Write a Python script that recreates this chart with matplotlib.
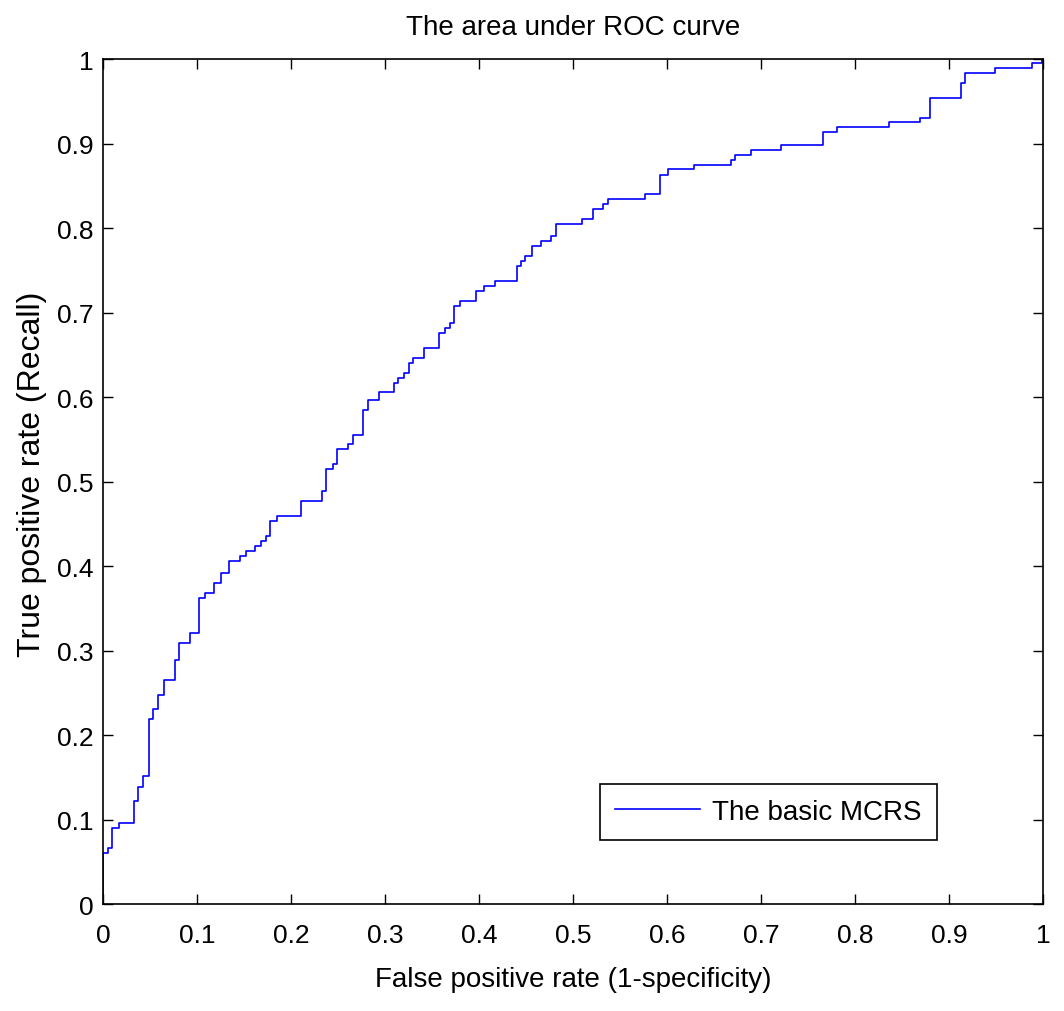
import matplotlib.pyplot as plt
import numpy as np

# ROC curve vertices (false positive rate, true positive rate)
fpr = [0, 0, 0.005, 0.0096, 0.017, 0.033, 0.0376, 0.0422, 0.0489, 0.0535,
       0.0582, 0.0649, 0.0763, 0.0809, 0.0929, 0.1021, 0.1085, 0.1181, 0.1252, 0.1344,
       0.1457, 0.1524, 0.1617, 0.1684, 0.1731, 0.1777, 0.1848, 0.2103, 0.233, 0.2376,
       0.2444, 0.2493, 0.261, 0.2656, 0.2769, 0.2816, 0.2933, 0.3093, 0.3141, 0.3205,
       0.3252, 0.3298, 0.3415, 0.3574, 0.3641, 0.3688, 0.3734, 0.3801, 0.3965, 0.4056,
       0.4173, 0.4401, 0.4447, 0.4493, 0.4564, 0.4656, 0.4769, 0.4819, 0.5093, 0.521,
       0.5322, 0.5369, 0.5763, 0.5922, 0.6014, 0.629, 0.6684, 0.6727, 0.689, 0.7213,
       0.7656, 0.7812, 0.8365, 0.8688, 0.8798, 0.9124, 0.917, 0.9493, 0.9883, 0.9986,
       1.0]
tpr = [0, 0.060, 0.066, 0.0895, 0.0955, 0.1215, 0.139, 0.151, 0.2186, 0.2304,
       0.2477, 0.2654, 0.2888, 0.3092, 0.321, 0.3621, 0.3684, 0.3799, 0.3917, 0.4059,
       0.4122, 0.4178, 0.4237, 0.4296, 0.4355, 0.4529, 0.4588, 0.4766, 0.4884, 0.5144,
       0.5204, 0.5381, 0.544, 0.5554, 0.585, 0.5967, 0.6059, 0.6169, 0.6228, 0.6288,
       0.6406, 0.6465, 0.658, 0.6757, 0.6817, 0.6876, 0.708, 0.7139, 0.7254, 0.7313,
       0.7373, 0.7546, 0.7609, 0.7664, 0.7783, 0.7842, 0.7902, 0.8051, 0.8107, 0.8225,
       0.8284, 0.8343, 0.8399, 0.8631, 0.8695, 0.8749, 0.8808, 0.8867, 0.8926, 0.8986,
       0.9132, 0.9191, 0.925, 0.9305, 0.9542, 0.9716, 0.9834, 0.9889, 0.9953, 1.0,
       1.0]

ticks = np.round(np.arange(0, 1.01, 0.1), 1)
tick_labels = ['0', '0.1', '0.2', '0.3', '0.4', '0.5', '0.6', '0.7', '0.8', '0.9', '1']

plt.rcParams['font.family'] = ['Liberation Sans', 'DejaVu Sans']

fig = plt.figure(figsize=(10.64, 10.12), dpi=100, facecolor='white')
ax = fig.add_axes([0.0968, 0.1057, 0.8835, 0.835])

ax.step(fpr, tpr, where='post', color='#0000ff', linewidth=1.2, label='The basic MCRS')

ax.set_xlim(0, 1)
ax.set_ylim(0, 1)
ax.set_xticks(ticks)
ax.set_xticklabels(tick_labels)
ax.set_yticks(ticks)
ax.set_yticklabels(tick_labels)
ax.tick_params(direction='in', length=7, width=1, top=True, right=True, labelsize=19)
ax.tick_params(axis='x', pad=14)
ax.tick_params(axis='y', pad=7)
for s in ax.spines.values():
    s.set_linewidth(1.2)
    s.set_color('black')

ax.set_title('The area under ROC curve', fontsize=20, pad=18)
ax.set_xlabel('False positive rate (1-specificity)', fontsize=20, labelpad=13)
ax.set_ylabel('True positive rate (Recall)', fontsize=23)
ax.yaxis.set_label_coords(-0.06, 0.51)

leg = ax.legend(loc='lower right', bbox_to_anchor=(0.902, 0.059), fontsize=20,
                fancybox=False, framealpha=1, edgecolor='black',
                handlelength=3.05, borderpad=0.55, handletextpad=0.45)
leg.get_frame().set_linewidth(1.2)

fig.savefig('out.png', dpi=100)
